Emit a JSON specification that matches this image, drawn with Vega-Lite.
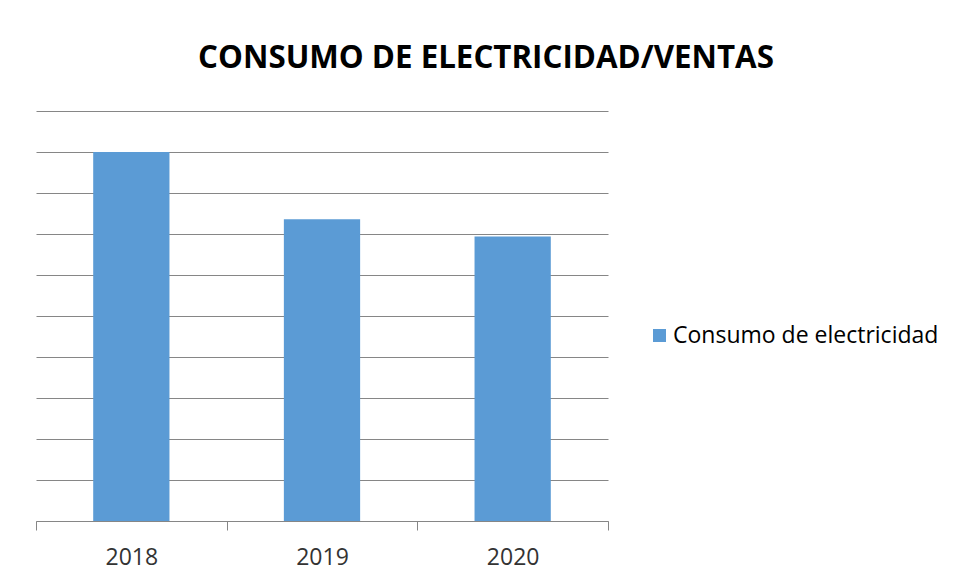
{
  "$schema": "https://vega.github.io/schema/vega-lite/v6.json",
  "width": 572,
  "height": 410,
  "autosize": {"type": "none"},
  "padding": {"left": 36, "top": 111, "right": 347, "bottom": 58},
  "background": "white",
  "title": {
    "text": "CONSUMO DE ELECTRICIDAD/VENTAS",
    "font": "Open Sans",
    "fontWeight": "bold",
    "fontSize": 31.3,
    "color": "#000000",
    "anchor": "middle",
    "frame": "group",
    "dx": 164,
    "baseline": "alphabetic",
    "offset": 12
  },
  "data": {
    "values": [
      {"year": "2018", "value": 9.0, "series": "Consumo de electricidad"},
      {"year": "2019", "value": 7.36, "series": "Consumo de electricidad"},
      {"year": "2020", "value": 6.94, "series": "Consumo de electricidad"}
    ]
  },
  "mark": {"type": "bar", "width": {"band": 0.4}},
  "encoding": {
    "x": {
      "field": "year",
      "type": "nominal",
      "title": null,
      "scale": {"paddingInner": 0, "paddingOuter": 0},
      "axis": {
        "labelAngle": 0,
        "labelFont": "Open Sans",
        "labelFontSize": 23,
        "labelColor": "#333333",
        "labelPadding": 16,
        "tickBand": "extent",
        "tickSize": 9,
        "tickColor": "#868686",
        "domainColor": "#868686",
        "grid": false
      }
    },
    "y": {
      "field": "value",
      "type": "quantitative",
      "title": null,
      "scale": {"domain": [0, 10], "nice": false},
      "axis": {
        "values": [0, 1, 2, 3, 4, 5, 6, 7, 8, 9, 10],
        "labels": false,
        "ticks": false,
        "domain": false,
        "grid": true,
        "gridColor": "#868686",
        "gridWidth": 1
      }
    },
    "color": {
      "field": "series",
      "type": "nominal",
      "scale": {"range": ["#5B9BD5"]},
      "legend": {
        "title": null,
        "orient": "none",
        "legendX": 612,
        "legendY": 213,
        "padding": 0,
        "symbolType": "square",
        "symbolSize": 169,
        "symbolStrokeWidth": 0,
        "labelFont": "Open Sans",
        "labelFontSize": 23,
        "labelColor": "#000000",
        "labelOffset": 2,
        "labelLimit": 400
      }
    }
  },
  "config": {"view": {"stroke": null}}
}
